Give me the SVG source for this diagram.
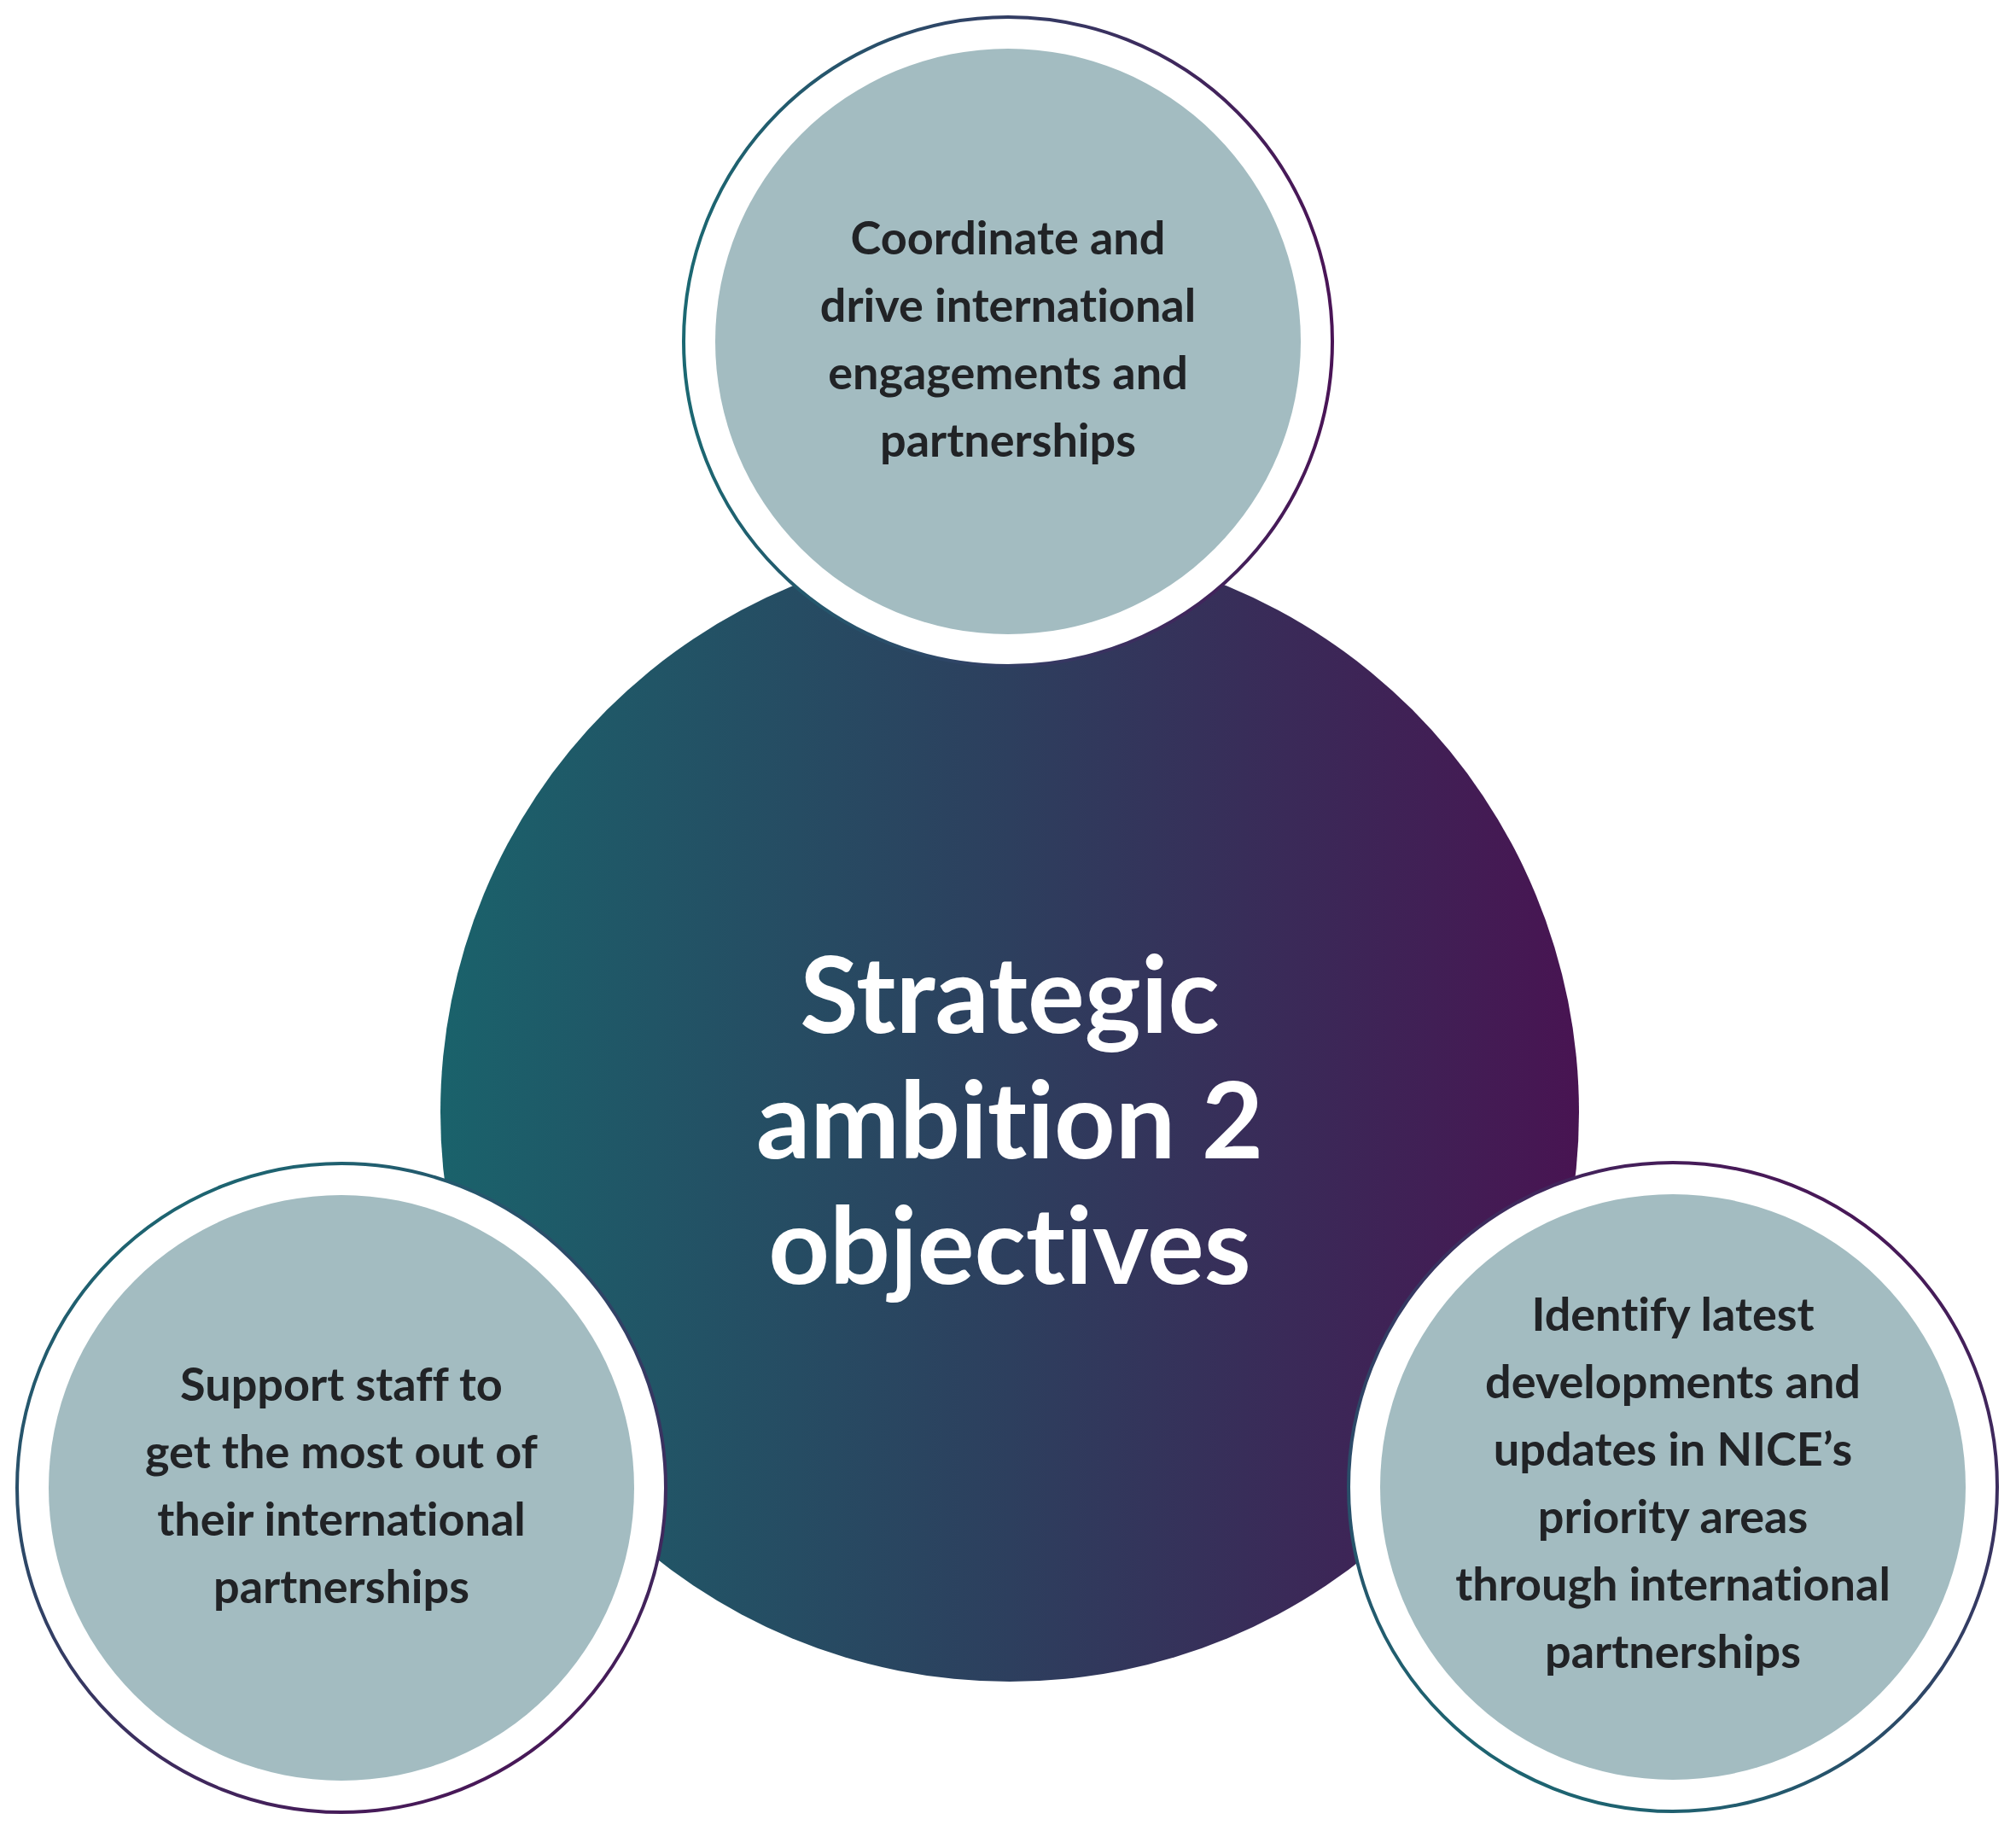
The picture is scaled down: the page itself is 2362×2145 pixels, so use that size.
<svg xmlns="http://www.w3.org/2000/svg" width="2362" height="2145" viewBox="0 0 2362 2145">
<style>
.ring{fill:#ffffff;stroke-width:4}
.inner{fill:#a3bcc1}
.obj{font-family:Lato,"Open Sans","Liberation Sans",sans-serif;font-weight:700;font-size:54px;fill:#212326;text-anchor:middle;font-variant-ligatures:none}
.title{font-family:Lato,"Open Sans","Liberation Sans",sans-serif;font-weight:700;font-size:125px;fill:#ffffff;text-anchor:middle;font-variant-ligatures:none}
</style>
<defs>
<linearGradient id="gBig" gradientUnits="userSpaceOnUse" x1="516" y1="0" x2="1850" y2="0">
<stop offset="0" stop-color="#1a626b"/>
<stop offset="0.5" stop-color="#2d3f5e"/>
<stop offset="1" stop-color="#481452"/>
</linearGradient>
<linearGradient id="gTop" x1="0" y1="0" x2="1" y2="0">
<stop offset="0" stop-color="#1b6872"/>
<stop offset="1" stop-color="#4a1456"/>
</linearGradient>
<linearGradient id="gLeft" x1="0.25" y1="0" x2="0.75" y2="1">
<stop offset="0" stop-color="#1b6872"/>
<stop offset="1" stop-color="#4a1456"/>
</linearGradient>
<linearGradient id="gRight" x1="0.25" y1="1" x2="0.75" y2="0">
<stop offset="0" stop-color="#1b6872"/>
<stop offset="1" stop-color="#4a1456"/>
</linearGradient>
</defs>
<g id="center">
<circle cx="1183" cy="1303" r="667" fill="url(#gBig)"/>
<text class="title"><tspan x="1183" y="1210">Strategic</tspan><tspan x="1183" y="1357">ambition 2</tspan><tspan x="1183" y="1504">objectives</tspan></text>
</g>
<g id="objective-top">
<circle class="ring" cx="1181" cy="400" r="380" stroke="url(#gTop)"/>
<circle class="inner" cx="1181" cy="400" r="343"/>
<text class="obj"><tspan x="1181" y="298">Coordinate and</tspan><tspan x="1181" y="377">drive international</tspan><tspan x="1181" y="456">engagements and</tspan><tspan x="1181" y="535">partnerships</tspan></text>
</g>
<g id="objective-left">
<circle class="ring" cx="400" cy="1743" r="380" stroke="url(#gLeft)"/>
<circle class="inner" cx="400" cy="1743" r="343"/>
<text class="obj"><tspan x="400" y="1641">Support staff to</tspan><tspan x="400" y="1720">get the most out of</tspan><tspan x="400" y="1799">their international</tspan><tspan x="400" y="1878">partnerships</tspan></text>
</g>
<g id="objective-right">
<circle class="ring" cx="1960" cy="1742" r="380" stroke="url(#gRight)"/>
<circle class="inner" cx="1960" cy="1742" r="343"/>
<text class="obj"><tspan x="1960" y="1559">Identify latest</tspan><tspan x="1960" y="1638">developments and</tspan><tspan x="1960" y="1717">updates in NICE’s</tspan><tspan x="1960" y="1796">priority areas</tspan><tspan x="1960" y="1875">through international</tspan><tspan x="1960" y="1954">partnerships</tspan></text>
</g>
<g id="connectors"/>
</svg>
